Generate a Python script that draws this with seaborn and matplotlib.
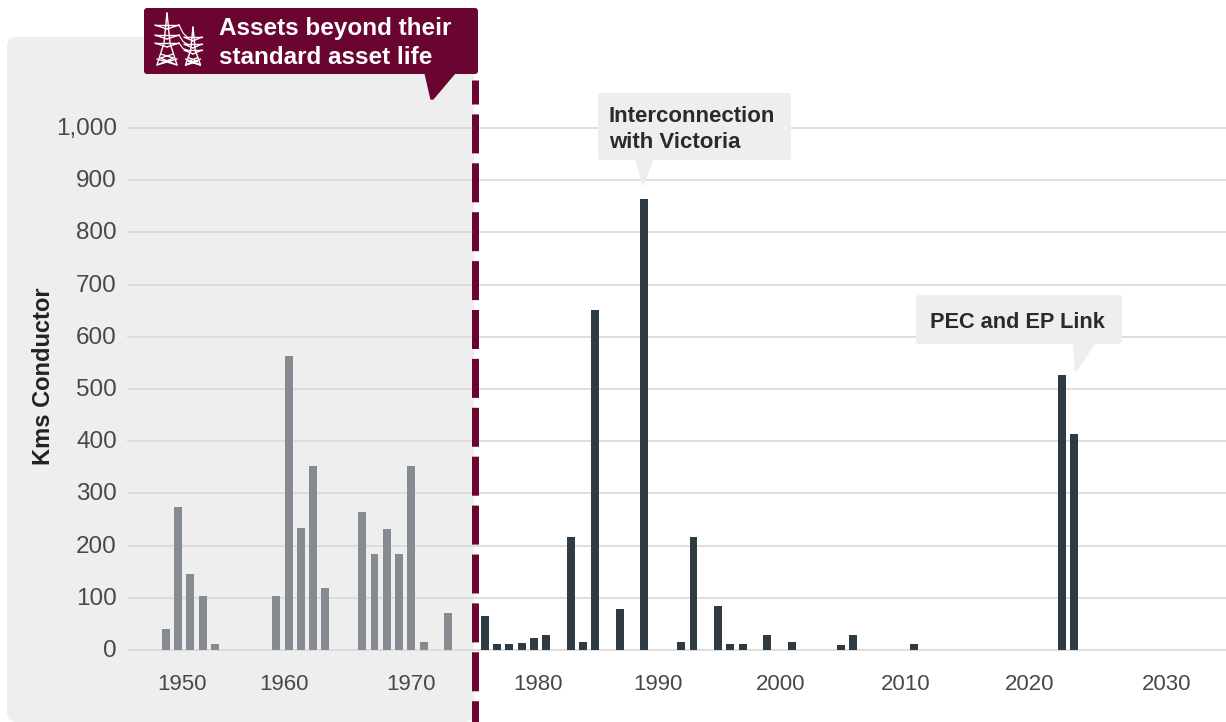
import pandas as pd
import matplotlib
matplotlib.use("Agg")
import matplotlib.pyplot as plt
from matplotlib.patches import FancyBboxPatch, Polygon
from matplotlib.transforms import ScaledTranslation
import seaborn as sns

years = [1950, 1951, 1952, 1953, 1954, 1959, 1960, 1961, 1962, 1963,
         1966, 1967, 1968, 1969, 1970, 1971, 1973,
         1976, 1977, 1978, 1979, 1980, 1981, 1983, 1984, 1985, 1987, 1989,
         1992, 1993, 1995, 1996, 1997, 1999, 2001, 2005, 2006, 2011, 2023, 2024]
kms = [40, 273, 145, 103, 11, 103, 563, 234, 352, 118,
       265, 183, 231, 183, 352, 15, 70,
       66, 11, 11, 13, 23, 28, 216, 15, 651, 78, 864,
       15, 216, 84, 11, 11, 28, 15, 9, 28, 11, 527, 414]
y_ticks = [0, 100, 200, 300, 400, 500, 600, 700, 800, 900, 1000]
y_labels = ["0", "100", "200", "300", "400", "500", "600", "700", "800", "900", "1,000"]
x_labels = ["1950", "1960", "1970", "1980", "1990", "2000", "2010", "2020", "2030"]
x_label_pos = [1951.3, 1959.6, 1970.0, 1980.3, 1990.1, 2000.1, 2010.3, 2020.4, 2031.6]

MAROON = "#6a0532"
PANEL = "#eeeeee"
TEXT = "#484848"
W, H = 1226, 722

plt.rcParams["font.family"] = ["Liberation Sans", "DejaVu Sans"]

df = pd.DataFrame({"year": years, "kms": kms})
df["group"] = ["old" if y < 1975 else "new" for y in df["year"]]

fig = plt.figure(figsize=(W / 100, H / 100), dpi=100)

# pixel coordinate layers behind and in front of the chart
back = fig.add_axes([0, 0, 1, 1], zorder=0)
back.set_xlim(0, W)
back.set_ylim(H, 0)
back.axis("off")
back.add_patch(FancyBboxPatch((17, 47), 447, 665, boxstyle="round,pad=10,rounding_size=10",
                              fc=PANEL, ec="none"))

ax = fig.add_axes([128 / W, (H - 650) / H, (W - 128) / W, 522 / H], zorder=1)
ax.patch.set_alpha(0)
sns.barplot(data=df, x="year", y="kms", hue="group", palette={"old": "#868a91", "new": "#2f3b43"},
            native_scale=True, dodge=False, width=0.65, saturation=1, legend=False, ax=ax, zorder=3)
ax.set_xlim(1946.91, 2036.4)
ax.set_ylim(0, 1000)
ax.set_yticks(y_ticks)
ax.set_yticklabels(y_labels)
ax.set_xticks(x_label_pos)
ax.set_xticklabels(x_labels)
ax.tick_params(axis="y", length=0, pad=8, labelsize=17.5, labelcolor=TEXT)
ax.tick_params(axis="x", length=0, pad=17, labelsize=16, labelcolor=TEXT)
for lab in ax.get_yticklabels():
    lab.set_transform(lab.get_transform() + ScaledTranslation(0, 1.5 / 100, fig.dpi_scale_trans))
ax.grid(axis="y", color="#d8d8d8", linewidth=1.2, clip_on=False)
ax.grid(axis="x", visible=False)
ax.set_axisbelow(True)
sns.despine(ax=ax, left=True, bottom=True)
ax.set_xlabel("")
ax.set_ylabel("Kms Conductor", fontsize=17, fontweight="bold", color="#222222")
ax.yaxis.set_label_coords(-73 / 1098, 0.525)

top = fig.add_axes([0, 0, 1, 1], zorder=2)
top.set_xlim(0, W)
top.set_ylim(H, 0)
top.axis("off")
top.patch.set_alpha(0)

# dashed cut-off line
top.plot([475, 475], [80, H], color=MAROON, linewidth=5.04, dash_capstyle="butt",
         linestyle=(15 / 7, (39 / 7, 9.9 / 7)))


def callout(x0, y0, x1, y1, tail, color):
    top.add_patch(Polygon(tail, closed=True, fc=color, ec=color, lw=1, joinstyle="round"))
    top.add_patch(FancyBboxPatch((x0 + 3, y0 + 3), x1 - x0 - 6, y1 - y0 - 6,
                                 boxstyle="round,pad=3,rounding_size=3", fc=color, ec="none"))


callout(144, 8, 478, 74, [(425, 73), (455, 73), (433, 99), (431, 99)], MAROON)
callout(598, 93, 791, 160, [(636, 159), (653, 159), (643, 185)], PANEL)
callout(916, 295, 1122, 344, [(1073, 343), (1095, 343), (1076, 371)], PANEL)

top.text(219, 29, "Assets beyond their", color="white", fontsize=17.5, fontweight="bold", va="center")
top.text(219, 58, "standard asset life", color="white", fontsize=17.5, fontweight="bold", va="center")
top.text(609, 116, "Interconnection", color="#2a2a2a", fontsize=16, fontweight="bold", va="center")
top.text(609, 142, "with Victoria", color="#2a2a2a", fontsize=16, fontweight="bold", va="center")
top.text(930, 322, "PEC and EP Link", color="#2a2a2a", fontsize=15.7, fontweight="bold", va="center")


def pylon(cx, y0, y1, half_arm, half_leg, arm_ys):
    # small line drawing of a transmission tower
    neck = half_leg * 0.3
    waist_y = arm_ys[-1]
    lines = [
        ([cx, cx - neck, cx - half_leg], [y0, waist_y, y1]),
        ([cx, cx + neck, cx + half_leg], [y0, waist_y, y1]),
        ([cx - half_leg * 0.65, cx + half_leg * 0.65, cx - half_leg, cx + half_leg],
         [(waist_y + y1) / 2, (waist_y + y1) / 2 + 4, y1, y1 - 6]),
        ([cx + half_leg * 0.65, cx - half_leg * 0.65, cx + half_leg, cx - half_leg],
         [(waist_y + y1) / 2, (waist_y + y1) / 2 + 4, y1, y1 - 6]),
    ]
    for i, arm_y in enumerate(arm_ys):
        lines.append(([cx - half_arm, cx + half_arm], [arm_y, arm_y]))
        lines.append(([cx - half_arm, cx], [arm_y, arm_y + 4]))
        lines.append(([cx + half_arm, cx], [arm_y, arm_y + 4]))
    for xs, ys in lines:
        top.plot(xs, ys, color="white", linewidth=1.0, solid_capstyle="round")


pylon(167, 13, 65, 12, 10, [25, 35, 43])
pylon(193, 27, 65, 9, 7.5, [37, 44, 50])
for y_start, y_end in [(25, 37), (35, 44), (43, 50)]:
    top.plot([179, 183, 187], [y_start, (y_start + y_end) / 2 + 2, y_end], color="white", linewidth=0.8)

plt.savefig("out.png", dpi=100)
